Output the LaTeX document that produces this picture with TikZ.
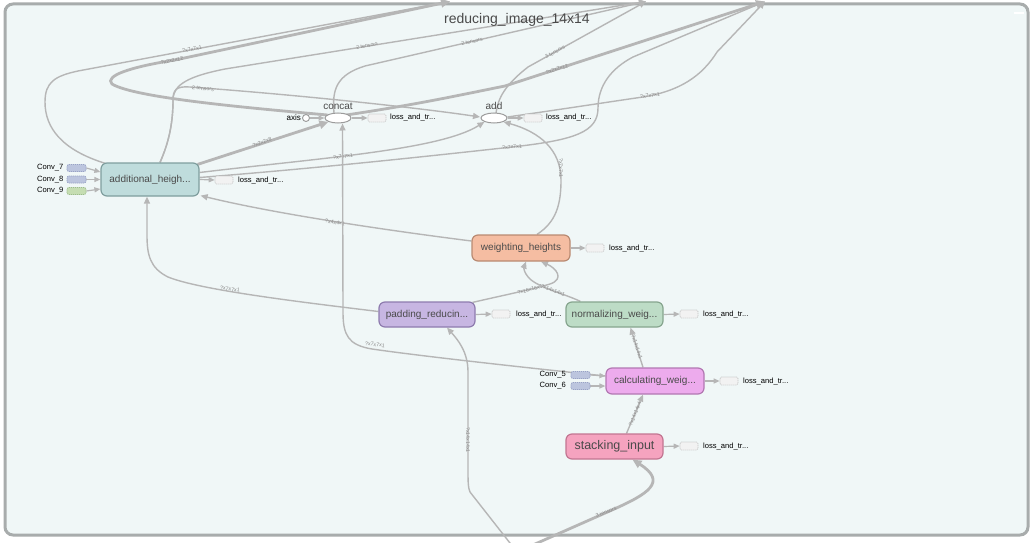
\documentclass[tikz,border=0pt]{standalone}
\usepackage{fontspec}
\setmainfont{Liberation Sans}
\usetikzlibrary{arrows.meta,shapes.geometric,calc}
\definecolor{bgc}{HTML}{F0F7F7}
\definecolor{framec}{HTML}{A8ACAC}
\definecolor{edgec}{HTML}{B6B6B6}
\definecolor{txtc}{HTML}{4A4A4A}
\definecolor{lblc}{HTML}{8A8A8A}
\definecolor{ahf}{HTML}{BFDCDC}\definecolor{ahd}{HTML}{7F9E9E}
\definecolor{whf}{HTML}{F5BDA2}\definecolor{whd}{HTML}{B98A72}
\definecolor{prf}{HTML}{C7B6E2}\definecolor{prd}{HTML}{8E7BAE}
\definecolor{nwf}{HTML}{BDDCC6}\definecolor{nwd}{HTML}{86A58E}
\definecolor{cwf}{HTML}{EDABED}\definecolor{cwd}{HTML}{B278B2}
\definecolor{sif}{HTML}{F5A3BF}\definecolor{sid}{HTML}{C27591}
\definecolor{convf}{HTML}{BCC5DE}\definecolor{convd}{HTML}{98A2C6}
\definecolor{convgf}{HTML}{C5DDB2}\definecolor{convgd}{HTML}{9DBD8A}
\definecolor{lossf}{HTML}{F2F2F2}\definecolor{lossd}{HTML}{C4C4C4}
\pgfdeclarelayer{bg}\pgfdeclarelayer{edges}
\pgfsetlayers{bg,edges,main}
\begin{document}
\begin{tikzpicture}[x=1pt,y=-1pt,
  opnode/.style={rectangle, rounded corners=6pt, line width=1.2pt, inner sep=0pt, text=txtc, font=\fontsize{10}{12}\selectfont},
  ell/.style={ellipse, draw=edgec!85!black, fill=white, line width=1pt, minimum width=26pt, minimum height=10pt, inner sep=0pt},
  lossbox/.style={rectangle, rounded corners=1.5pt, dash pattern=on 1.2pt off 0.8pt, draw=lossd, fill=lossf, line width=0.7pt, minimum width=18pt, minimum height=8pt, inner sep=0pt},
  convbox/.style={rectangle, rounded corners=2pt, dash pattern=on 1.2pt off 0.8pt, line width=0.7pt, minimum width=19pt, minimum height=7pt, inner sep=0pt},
  smalltxt/.style={font=\fontsize{7.6}{9}\selectfont, text=black, inner sep=0pt},
  oplab/.style={font=\fontsize{10}{12}\selectfont, text=txtc, inner sep=0pt},
  elab/.style={font=\fontsize{5.3}{6}\selectfont, text=lblc, inner sep=0.3pt},
  e/.style={draw=edgec, line width=1.4pt, -{Triangle[length=7pt,width=6pt]}},
  ethick/.style={draw=edgec, line width=2.8pt, -{Triangle[length=9pt,width=8pt]}},
  el/.style={draw=edgec, line width=1.2pt, -{Triangle[length=6pt,width=5pt]}}
]
\useasboundingbox (0,0) rectangle (1033,543);
\begin{pgfonlayer}{bg}
\fill[white] (0,0) rectangle (1033,543);
\draw[line width=3pt, draw=framec, fill=bgc, rounded corners=8pt] (5,4) rectangle (1028,535);
\fill[white] (1014,11.8) rectangle (1024,14.2);
\end{pgfonlayer}

\node[font=\fontsize{14}{16}\selectfont, text=txtc] (title) at (517,20) {reducing\_image\_14x14};

% outside anchors
\coordinate (T1) at (450,1.5);
\coordinate (T2) at (646,1.5);
\coordinate (T3) at (765,1.5);
\coordinate (B) at (517,552);

% op nodes
\node[opnode, fill=ahf, draw=ahd, minimum width=98pt, minimum height=33pt] (ah) at (150,179.5) {additional\_heigh...};
\node[opnode, fill=whf, draw=whd, minimum width=98pt, minimum height=26pt] (wh) at (521,248) {weighting\_heights};
\node[opnode, fill=prf, draw=prd, minimum width=96pt, minimum height=25pt] (pr) at (427,314.5) {padding\_reducin...};
\node[opnode, fill=nwf, draw=nwd, minimum width=97pt, minimum height=25pt] (nw) at (614.5,314.5) {normalizing\_weig...};
\node[opnode, fill=cwf, draw=cwd, minimum width=98pt, minimum height=26pt] (cw) at (655,381) {calculating\_weig...};
\node[opnode, fill=sif, draw=sid, minimum width=97pt, minimum height=25pt, font=\fontsize{12.5}{14}\selectfont] (si) at (614.5,446.5) {stacking\_input};

% ellipse ops
\node[ell] (cc) at (338,118) {};
\node[oplab, anchor=south] (ccl) at (338,110) {concat};
\node[ell] (ad) at (494,118) {};
\node[oplab, anchor=south] (adl) at (494,110) {add};
\node[circle, draw=edgec!85!black, fill=white, line width=0.9pt, minimum size=7pt, inner sep=0pt] (ax) at (306,118) {};
\node[smalltxt, anchor=east, font=\fontsize{8}{9}\selectfont] (axl) at (301,118) {axis};

% conv inputs
\node[convbox, fill=convf, draw=convd] (c7) at (76.5,168) {};
\node[convbox, fill=convf, draw=convd] (c8) at (76.5,179.5) {};
\node[convbox, fill=convgf, draw=convgd] (c9) at (76.5,191) {};
\node[smalltxt, anchor=east] (c7l) at (63.5,168) {Conv\_7};
\node[smalltxt, anchor=east] (c8l) at (63.5,179.5) {Conv\_8};
\node[smalltxt, anchor=east] (c9l) at (63.5,191) {Conv\_9};
\node[convbox, fill=convf, draw=convd] (c5) at (580.5,375) {};
\node[convbox, fill=convf, draw=convd] (c6) at (580.5,386) {};
\node[smalltxt, anchor=east] (c5l) at (566,375) {Conv\_5};
\node[smalltxt, anchor=east] (c6l) at (566,386) {Conv\_6};

% loss boxes and texts
\node[lossbox] (lah) at (224,180) {};
\node[smalltxt, anchor=west] (lahl) at (238,180) {loss\_and\_tr...};
\node[lossbox] (lcc) at (377,118) {};
\node[smalltxt, anchor=west] (lccl) at (390,118) {loss\_and\_tr...};
\node[lossbox] (lad) at (533,118) {};
\node[smalltxt, anchor=west] (ladl) at (546,118) {loss\_and\_tr...};
\node[lossbox] (lwh) at (595,248) {};
\node[smalltxt, anchor=west] (lwhl) at (609,248) {loss\_and\_tr...};
\node[lossbox] (lpr) at (501,314) {};
\node[smalltxt, anchor=west] (lprl) at (516,314) {loss\_and\_tr...};
\node[lossbox] (lnw) at (689,314) {};
\node[smalltxt, anchor=west] (lnwl) at (703,314) {loss\_and\_tr...};
\node[lossbox] (lcw) at (729,381) {};
\node[smalltxt, anchor=west] (lcwl) at (743,381) {loss\_and\_tr...};
\node[lossbox] (lsi) at (689,446) {};
\node[smalltxt, anchor=west] (lsil) at (703,446) {loss\_and\_tr...};

\begin{pgfonlayer}{edges}
% small inputs
\draw[el] (c7.east) -- ($(ah.west)+(0,-7.5)$);
\draw[el] (c8.east) -- (ah.west);
\draw[el] (c9.east) -- ($(ah.west)+(0,9.5)$);
\draw[el] (c5.east) -- ($(cw.west)+(0,-5)$);
\draw[el] (c6.east) -- ($(cw.west)+(0,5)$);
\draw[el] (ax.east) -- (cc.west);
% loss outputs
\draw[el] (ah.east) -- (lah.west);
\draw[el] (cc.east) -- (lcc.west);
\draw[el] (ad.east) -- (lad.west);
\draw[el] (wh.east) -- (lwh.west);
\draw[el] (pr.east) -- (lpr.west);
\draw[el] (nw.east) -- (lnw.west);
\draw[el] (cw.east) -- (lcw.west);
\draw[el] (si.east) -- (lsi.west);

% edges leaving the group at the top
\draw[e] ($(ah.north west)+(5,1)$) .. controls (62,150) and (45,128) .. (45,102) .. controls (45,82) and (55,76) .. (78,71) -- (T1);
\node[elab, rotate=10.6] at (192,49) {?x7x7x1};
\draw[ethick] ($(cc.west)+(3,-3)$) .. controls (250,108) and (135,98) .. (112,84) .. controls (104,76) and (130,67) .. (175,60) -- (T1);
\node[elab, rotate=12.1] at (172,60.5) {?x2x2x12};
\draw[e] ($(ah.north)+(10,0)$) .. controls (170,140) and (173,120) .. (173,100) .. controls (173,84) and (190,76) .. (225,69) -- (T2);
\node[elab, rotate=9.2] at (367,45.5) {2 tensors};
\draw[e] ($(ah.north)+(10,0)$) .. controls (170,140) and (173,120) .. (173,100) .. controls (173,90) and (176,86) .. (190,87) .. controls (300,95) and (420,108) .. ($(ad.west)+(-0.5,-1)$);
\node[elab, rotate=-5.5] at (203,88.5) {2 tensors};
\draw[e] ($(cc.north)+(-4,0.5)$) .. controls (332,90) and (336,75) .. (365,66) -- (T2);
\node[elab, rotate=13] at (472,41.5) {2 tensors};
\draw[e] ($(ad.north)+(2,0.5)$) .. controls (498,98) and (505,85) .. (528,67) -- (T2);
\node[elab, rotate=29] at (555,52) {3 tensors};
\draw[ethick] ($(cc.north east)+(-2,1)$) .. controls (420,104) and (460,95) .. (505,86) -- (T3);
\node[elab, rotate=18] at (557,69) {?x2x2x12};
\draw[e] ($(ah.east)+(0,-2)$) .. controls (320,168) and (430,156) .. (512,147) .. controls (575,140) and (598,132) .. (598,108) .. controls (598,85) and (612,68) .. (633,57) -- (T3);
\node[elab, rotate=5] at (512,147) {?x7x7x1};
\draw[e] ($(ad.east)+(0,-1)$) .. controls (570,108) and (615,101) .. (643,97) .. controls (680,91) and (702,76) .. (717,52) -- (T3);
\node[elab, rotate=7] at (650,95.5) {?x7x7x1};

% internal edges
\draw[ethick] ($(ah.north east)+(-2,2)$) -- (cc.south west);
\node[elab, rotate=19] at (262,142.5) {?x2x2x8};
\draw[e] ($(ah.east)+(0,-7)$) .. controls (320,158) and (440,150) .. (ad.south west);
\node[elab, rotate=6] at (343,156.5) {?x7x7x1};
\draw[e] ($(wh.north)+(16,0)$) .. controls (556,222) and (561,205) .. (561,180) .. controls (561,150) and (540,132) .. (ad.south east);
\node[elab, rotate=-90] at (561,168) {?x7x7x1};
\draw[e] ($(wh.west)+(0,-7)$) .. controls (400,232) and (280,215) .. ($(ah.south east)+(1,-1)$);
\node[elab, rotate=-8] at (335,222.5) {?x4x4x1};
\draw[e] ($(pr.west)+(0,-3)$) .. controls (300,302) and (200,290) .. (168,277) .. controls (150,268) and (147,255) .. (147,235) -- ($(ah.south)+(-3,0)$);
\node[elab, rotate=-9] at (230,289) {?x7x7x1};
\draw[e] ($(pr.north east)+(-3,1)$) .. controls (500,296) and (530,290) .. (550,284) .. controls (565,279) and (556,268) .. ($(wh.south)+(20,0)$);
\node[elab, rotate=15] at (530,289.5) {?x16x16x1};
\draw[e] ($(nw.north west)+(15,0)$) .. controls (565,294) and (540,288) .. (530,279) .. controls (523,272) and (524,267) .. ($(wh.south)+(5,0)$);
\node[elab, rotate=-22] at (553,290.5) {?x14x14x1};
\draw[e] ($(cw.north)+(-12,0)$) -- ($(nw.south)+(16,0)$);
\node[elab, rotate=-72] at (637,347) {?x14x14x1};
\draw[e] ($(si.north)+(12,0)$) -- ($(cw.south)+(-12,0)$);
\node[elab, rotate=68] at (635,414) {?x14x14x4};
\draw[e] ($(cw.west)+(0,-5)$) .. controls (520,367) and (420,356) .. (372,349) .. controls (348,345) and (343,335) .. (343,312) -- ($(cc.south)+(4.5,0)$);
\node[elab, rotate=-7] at (375,344.5) {?x7x7x1};

% edges entering from below
\draw[e] (B) -- (470,492) .. controls (468,488) and (468,480) .. (468,470) -- (468,372) .. controls (468,352) and (458,340) .. ($(pr.south)+(20,0)$);
\node[elab, rotate=-90] at (468,440) {?x14x14x1};
\draw[ethick] (B) -- (612,510) .. controls (648,494) and (668,482) .. ($(si.south)+(18,0)$);
\node[elab, rotate=21.8] at (606,512) {3 tensors};
\end{pgfonlayer}
\end{tikzpicture}
\end{document}
